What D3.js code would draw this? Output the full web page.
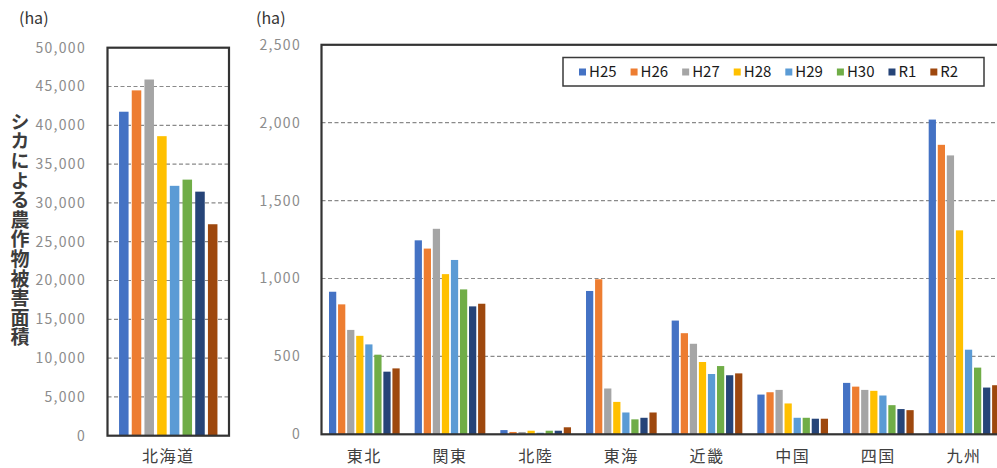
<!DOCTYPE html>
<html lang="ja">
<head>
<meta charset="utf-8">
<script src="https://cdn.jsdelivr.net/npm/d3@7"></script>
<style>
  html, body { margin: 0; padding: 0; background: #fff; overflow: hidden; }
  svg { display: block; font-family: "Noto Sans CJK JP", "Noto Sans", sans-serif; }
</style>
</head>
<body>
<svg id="chart" width="997" height="468"></svg>
<script>
// 年度（凡例）
const seasons = ["H25", "H26", "H27", "H28", "H29", "H30", "R1", "R2"];
const seasonColors = ["#4472C4", "#ED7D31", "#A5A5A5", "#FFC000", "#5B9BD5", "#70AD47", "#264478", "#9E480E"];

// 北海道（左パネル, ha）
const hokkaidoName = "北海道";
const hokkaido = [41750, 44500, 45900, 38600, 32200, 33000, 31450, 27250];
const hokkaidoTicks = [0, 5000, 10000, 15000, 20000, 25000, 30000, 35000, 40000, 45000, 50000];

// 本州以南の地域（右パネル, ha）
const regions = ["東北", "関東", "北陸", "東海", "近畿", "中国", "四国", "九州"];
const h25 = [915, 1245, 27, 920, 730, 255, 330, 2020];
const h26 = [834, 1192, 15, 995, 649, 270, 306, 1858];
const h27 = [670, 1319, 15, 294, 581, 285, 285, 1790];
const h28 = [632, 1028, 23, 208, 464, 198, 279, 1309];
const h29 = [577, 1119, 10, 140, 387, 106, 249, 543];
const h30 = [511, 930, 23, 96, 438, 106, 187, 428];
const r1 = [402, 821, 23, 106, 379, 100, 162, 300];
const r2 = [423, 838, 45, 140, 391, 100, 155, 315];
const regionTicks = [0, 500, 1000, 1500, 2000, 2500];

const yTitle = "シカによる農作物被害面積";
const unitLabel = "(ha)";

const regionSeries = [h25, h26, h27, h28, h29, h30, r1, r2];
const regionRows = regions.map((name, i) => ({
  name,
  values: seasons.map((s, j) => ({ key: s, value: regionSeries[j][i] }))
}));
const hokkaidoRows = [{
  name: hokkaidoName,
  values: seasons.map((s, j) => ({ key: s, value: hokkaido[j] }))
}];

const svg = d3.select("#chart");
const color = d3.scaleOrdinal().domain(seasons).range(seasonColors);
const fmt = d3.format(",");

function panel(opts) {
  const { rows, x0, x1, yTop, yBottom, max, ticks, tickX, innerPad, outerPad, frameRight } = opts;
  const g = svg.append("g");
  const x = d3.scaleBand().domain(rows.map(d => d.name)).range([x0, x1]).padding(0);
  const y = d3.scaleLinear().domain([0, max]).range([yBottom, yTop]);

  const groupW = x.bandwidth() * opts.groupFrac;
  const xs = d3.scaleBand().domain(seasons)
    .range([0, groupW]).paddingInner(innerPad).paddingOuter(outerPad);

  // 目盛り線（破線）
  g.append("g").selectAll("line")
    .data(ticks.filter(t => t > 0 && t < max))
    .join("line")
    .attr("x1", x0).attr("x2", frameRight)
    .attr("y1", d => y(d)).attr("y2", d => y(d))
    .attr("stroke", "#8a8a8a").attr("stroke-width", 1.2)
    .attr("stroke-dasharray", "4,2.5");

  // 棒
  const grp = g.append("g").selectAll("g")
    .data(rows).join("g")
    .attr("transform", d => `translate(${x(d.name) + (x.bandwidth() - groupW) / 2},0)`);
  grp.selectAll("rect")
    .data(d => d.values).join("rect")
    .attr("x", d => xs(d.key))
    .attr("width", xs.bandwidth())
    .attr("y", d => y(d.value))
    .attr("height", d => y(0) - y(d.value))
    .attr("fill", d => color(d.key));

  // 枠
  g.append("rect")
    .attr("x", x0).attr("y", y(max))
    .attr("width", frameRight - x0).attr("height", y(0) - y(max))
    .attr("fill", "none").attr("stroke", "#333").attr("stroke-width", 2.2);

  // Y軸ラベル
  const yAxis = d3.axisLeft(y).tickValues(ticks).tickFormat(fmt).tickSize(0).tickPadding(0);
  const ya = g.append("g").attr("transform", `translate(${tickX},0)`).call(yAxis);
  ya.select(".domain").remove();
  ya.selectAll("text")
    .attr("fill", "#8c8c8c")
    .style("font-size", "14px")
    .style("letter-spacing", "1.3px")
    .style("font-family", "'Noto Sans CJK JP', sans-serif");

  // X軸ラベル（地域名）
  const xAxis = d3.axisBottom(x).tickSize(0).tickPadding(0);
  const xa = g.append("g").attr("transform", `translate(0,${opts.labelY})`).call(xAxis);
  xa.select(".domain").remove();
  xa.selectAll("text")
    .attr("fill", "#404040")
    .attr("dy", "0")
    .attr("dominant-baseline", "middle")
    .style("font-size", "16px")
    .style("letter-spacing", "1.5px")
    .style("font-family", "'Noto Sans CJK JP', sans-serif");

  // 単位
  g.append("text")
    .attr("x", opts.unitX).attr("y", 20)
    .attr("dominant-baseline", "middle")
    .attr("fill", "#333")
    .style("font-size", "16px")
    .text(unitLabel);

  return { x, y };
}

// 左：北海道
panel({
  rows: hokkaidoRows, x0: 107.5, x1: 229, frameRight: 229,
  yTop: 47.7, yBottom: 435.7, max: 50000, ticks: hokkaidoTicks,
  tickX: 86, groupFrac: 0.836, innerPad: 0.25, outerPad: 0.125,
  labelY: 458, unitX: 19
});

// 右：地域別
panel({
  rows: regionRows, x0: 321.5, x1: 321.5 + 85.67 * regions.length, frameRight: 1012,
  yTop: 44.8, yBottom: 434.3, max: 2500, ticks: regionTicks,
  tickX: 301, groupFrac: 0.846, innerPad: 0.2, outerPad: 0.1,
  labelY: 458, unitX: 256
});

// 縦書きの軸タイトル
svg.append("text")
  .attr("x", 20)
  .attr("y", 112)
  .attr("fill", "#3c3c3c")
  .style("writing-mode", "vertical-rl")
  .style("font-size", "19px")
  .style("font-weight", "bold")
  .style("letter-spacing", "0.6px")
  .text(yTitle);

// 凡例
const legend = svg.append("g");
legend.append("rect")
  .attr("x", 563).attr("y", 57.5).attr("width", 421).attr("height", 28.5)
  .attr("fill", "#fff").attr("stroke", "#3a3a3a").attr("stroke-width", 1.5);
let lx = 579;
seasons.forEach(s => {
  const item = legend.append("g");
  item.append("rect")
    .attr("x", lx).attr("y", 68.5).attr("width", 7).attr("height", 7)
    .attr("fill", color(s));
  const t = item.append("text")
    .attr("x", lx + 10).attr("y", 72.5)
    .attr("dominant-baseline", "middle")
    .attr("fill", "#1a1a1a")
    .style("font-size", "15px")
    .text(s);
  lx += 10 + t.node().getComputedTextLength() + 14;
});
</script>
</body>
</html>
